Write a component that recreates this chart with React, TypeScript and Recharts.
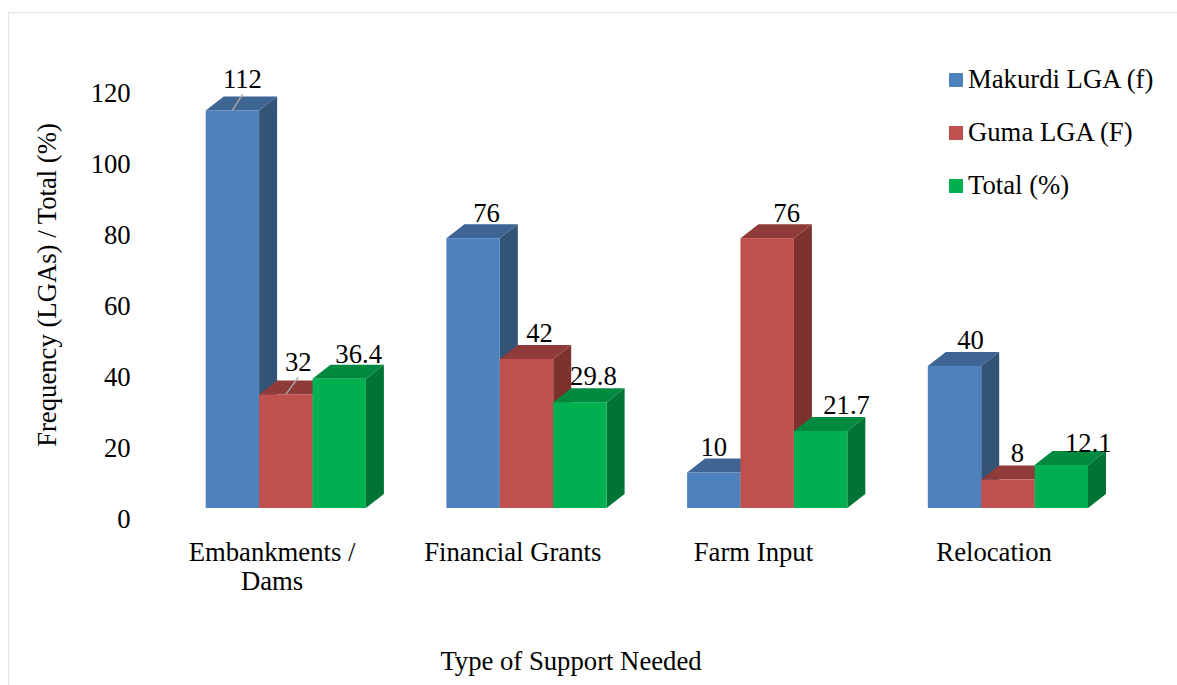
import React from "react";
import { BarChart, Bar, XAxis, YAxis, LabelList, Legend, Label } from "recharts";

const categories = ["Embankments / Dams", "Financial Grants", "Farm Input", "Relocation"];
const makurdi = [112, 76, 10, 40];
const guma = [32, 42, 76, 8];
const total = [36.4, 29.8, 21.7, 12.1];
const yTicks = [0, 20, 40, 60, 80, 100, 120];

const rows = categories.map((name, i) => ({
  name,
  makurdi: makurdi[i],
  guma: guma[i],
  total: total[i],
}));

const FONT = "'Liberation Serif', 'Times New Roman', serif";
const FONT_SIZE = 26.7;
const DEPTH_X = 18;
const DEPTH_Y = 14;
const INK = "#000";

// Value labels sit beside the extruded tops rather than centred on the bars.
const makurdiNudge = [[10, -31], [13.5, -25], [0, -26], [16, -26]];
const gumaNudge = [[12.5, -32], [13, -26], [19.5, -25], [9.5, -27]];
const totalNudge = [[19.5, -25], [13.5, -26], [26, -26], [27, -22]];

const palette = {
  makurdi: { front: "#4F81BD", top: "#3E6594", side: "#335377" },
  guma: { front: "#C0504D", top: "#8F3B39", side: "#7D3230" },
  total: { front: "#00B050", top: "#008A3F", side: "#007434" },
};

const Box = ({ x, y, width, height, colors }: any) => {
  const r = x + width;
  const b = y + height;
  return (
    <g>
      <polygon
        points={`${r},${y} ${r + DEPTH_X},${y - DEPTH_Y} ${r + DEPTH_X},${b - DEPTH_Y} ${r},${b}`}
        fill={colors.side}
      />
      <polygon
        points={`${x},${y} ${x + DEPTH_X},${y - DEPTH_Y} ${r + DEPTH_X},${y - DEPTH_Y} ${r},${y}`}
        fill={colors.top}
      />
      <rect x={x} y={y} width={width} height={height} fill={colors.front} />
    </g>
  );
};

const valueLabel = (nudges: number[][], leaders: number[]) => (props: any) => {
  const { x, y, width, value, index } = props;
  const cx = x + width / 2;
  const [dx, dy] = nudges[index];
  return (
    <g>
      {leaders.includes(index) && (
        <line x1={cx} y1={y} x2={cx + dx} y2={y + dy + 15} stroke="#A6A6A6" strokeWidth={1.5} />
      )}
      <text x={cx + dx} y={y + dy + 9} textAnchor="middle" fontFamily={FONT} fontSize={FONT_SIZE} fill={INK}>
        {value}
      </text>
    </g>
  );
};

const CategoryTick = ({ x, payload }: any) => {
  const value: string = payload.value;
  const lines = value.includes(" / ") ? [value.split(" / ")[0] + " /", value.split(" / ")[1]] : [value];
  return (
    <text textAnchor="middle" fontFamily={FONT} fontSize={FONT_SIZE} fill={INK}>
      {lines.map((line, i) => (
        <tspan key={line} x={x - 14} y={561 + i * 29}>
          {line}
        </tspan>
      ))}
    </text>
  );
};

const ValueTick = ({ x, y, payload }: any) => (
  <text x={x - 27} y={y + 20} textAnchor="end" fontFamily={FONT} fontSize={FONT_SIZE} fill={INK}>
    {payload.value}
  </text>
);

const LegendBlock = ({ payload }: any) => (
  <div style={{ fontFamily: FONT, fontSize: FONT_SIZE, color: INK, lineHeight: "53px" }}>
    {(payload ?? []).map((item: any) => (
      <div key={item.value} style={{ display: "flex", alignItems: "center", height: 53, whiteSpace: "nowrap" }}>
        <span style={{ width: 14, height: 14, background: item.color, marginRight: 5, display: "inline-block" }} />
        {item.value}
      </div>
    ))}
  </div>
);

export default function App() {
  return (
    <div style={{ position: "absolute", left: 0, top: 0, width: 1177, height: 685, overflow: "hidden", background: "#fff" }}>
      <div
        style={{
          position: "absolute",
          left: 8,
          top: 12,
          width: 1169,
          height: 673,
          boxSizing: "border-box",
          borderLeft: "1.5px solid #E2E2E2",
          borderTop: "1.5px solid #E2E2E2",
        }}
      />
      <BarChart
        width={1177}
        height={685}
        data={rows}
        margin={{ top: 82, right: 48.5, bottom: 0, left: 35.7 }}
        barSize={53.4}
        barGap={0}
        style={{ position: "absolute", left: 0, top: 0 }}
      >
        <XAxis dataKey="name" axisLine={false} tickLine={false} height={177} interval={0} tick={<CategoryTick />}>
          <Label
            content={() => (
              <text x={571} y={670} textAnchor="middle" fontFamily={FONT} fontSize={FONT_SIZE} fill={INK}>
                Type of Support Needed
              </text>
            )}
          />
        </XAxis>
        <YAxis
          domain={[0, 120]}
          ticks={yTicks}
          width={130}
          axisLine={false}
          tickLine={false}
          tick={<ValueTick />}
        >
          <Label
            content={() => (
              <text
                x={0}
                y={0}
                transform="translate(56 285) rotate(-90)"
                textAnchor="middle"
                fontFamily={FONT}
                fontSize={FONT_SIZE}
                fill={INK}
              >
                Frequency (LGAs) / Total (%)
              </text>
            )}
          />
        </YAxis>
        <Legend
          layout="vertical"
          align="center"
          verticalAlign="middle"
          itemSorter={null}
          wrapperStyle={{ position: "absolute", left: 949, top: 53, width: 228 }}
          content={<LegendBlock />}
        />
        <Bar
          dataKey="makurdi"
          name="Makurdi LGA (f)"
          fill={palette.makurdi.front}
          isAnimationActive={false}
          shape={(p: any) => <Box {...p} colors={palette.makurdi} />}
        >
          <LabelList dataKey="makurdi" content={valueLabel(makurdiNudge, [0])} />
        </Bar>
        <Bar
          dataKey="guma"
          name="Guma LGA (F)"
          fill={palette.guma.front}
          isAnimationActive={false}
          shape={(p: any) => <Box {...p} colors={palette.guma} />}
        >
          <LabelList dataKey="guma" content={valueLabel(gumaNudge, [0])} />
        </Bar>
        <Bar
          dataKey="total"
          name="Total (%)"
          fill={palette.total.front}
          isAnimationActive={false}
          shape={(p: any) => <Box {...p} colors={palette.total} />}
        >
          <LabelList dataKey="total" content={valueLabel(totalNudge, [])} />
        </Bar>
      </BarChart>
    </div>
  );
}
